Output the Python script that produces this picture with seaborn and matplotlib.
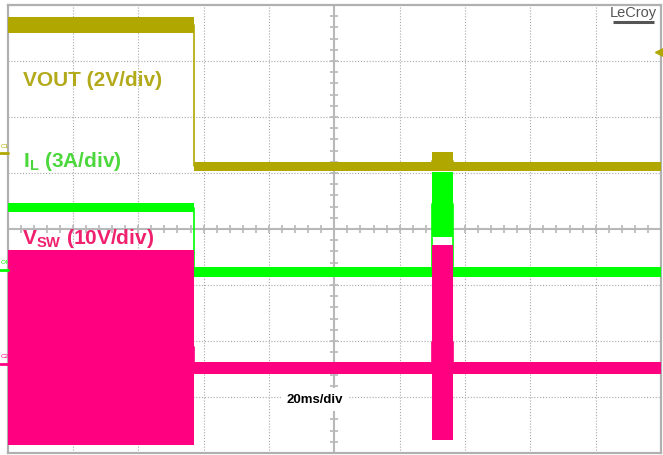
import numpy as np
import pandas as pd
import matplotlib

matplotlib.use('Agg')
import matplotlib.pyplot as plt
from matplotlib.lines import Line2D
import seaborn as sns

# ==========================================
# 0. style / fonts
# ==========================================
sns.set_theme(style="white")
plt.rcParams['font.family'] = ['Liberation Sans', 'DejaVu Sans']
plt.rcParams['mathtext.fontset'] = 'custom'
plt.rcParams['mathtext.rm'] = 'Liberation Sans:bold'
plt.rcParams['mathtext.bf'] = 'Liberation Sans:bold'

# ==========================================
# 1. traces (time in ms, 20ms/div; amplitude in screen divisions)
# ==========================================
t_ms = [0, 57, 57, 130, 130, 136.3, 136.3, 200]

vout_hi = [7.79, 7.79, 5.20, 5.20, 5.38, 5.38, 5.20, 5.20]
vout_lo = [7.50, 7.50, 5.04, 5.04, 5.04, 5.04, 5.04, 5.04]

il_hi = [4.46, 4.46, 3.32, 3.32, 5.02, 5.02, 3.32, 3.32]
il_lo = [4.30, 4.30, 3.14, 3.14, 3.86, 3.86, 3.14, 3.14]

vsw_hi = [3.63, 3.63, 1.63, 1.63, 3.71, 3.71, 1.63, 1.63]
vsw_lo = [0.14, 0.14, 1.41, 1.41, 0.24, 0.24, 1.41, 1.41]

channels = ['VOUT', 'IL', 'VSW']
colors = {'VOUT': '#b0a800', 'IL': '#00ff00', 'VSW': '#ff0080'}
label_colors = {'VOUT': '#b3aa1b', 'IL': '#4cd83c', 'VSW': '#f0206e'}
labels = {'VOUT': 'VOUT (2V/div)',
          'IL': r'I$_\mathrm{L}$ (3A/div)',
          'VSW': r'V$_\mathrm{SW}$ (10V/div)'}
label_pos = {'VOUT': (4.8, 6.66), 'IL': (4.8, 5.20), 'VSW': (4.3, 3.83)}
ground_px = {'VOUT': 153, 'IL': 270, 'VSW': 364}
marker_text = {'VOUT': 'C1', 'IL': 'C4', 'VSW': 'C2'}

bands = {
    'VOUT': (vout_hi, vout_lo),
    'IL': (il_hi, il_lo),
    'VSW': (vsw_hi, vsw_lo),
}

W, H = 663, 455
fig = plt.figure(figsize=(W / 100, H / 100), dpi=100)
ax = fig.add_axes([7.6 / W, 2 / H, 653.4 / W, 448 / H])
ax.set_xlim(0, 200)
ax.set_ylim(0, 8)

# grid
grid_c = '#a8a8a8'
for gx in np.arange(20, 200, 20):
    if gx == 100:
        continue
    ax.axvline(gx, color=grid_c, lw=0.8, ls=(0, (1, 1.6)), zorder=1)
for gy in np.arange(1, 8, 1):
    if gy == 4:
        continue
    ax.axhline(gy, color=grid_c, lw=0.8, ls=(0, (1, 1.6)), zorder=1)

# center cross with minor ticks
cross_c = '#b8b8b8'
ax.axvline(100, color=cross_c, lw=1.5, zorder=1)
ax.axhline(4, color=cross_c, lw=1.5, zorder=1)
ax.vlines(np.arange(4, 200, 4), 4 - 0.07, 4 + 0.07, color=cross_c, lw=1.2, zorder=1)
ax.hlines(np.arange(0.2, 8, 0.2), 100 - 1.2, 100 + 1.2, color=cross_c, lw=1.2, zorder=1)

# traces
for ch in channels:
    hi, lo = bands[ch]
    df = pd.DataFrame({'t': t_ms, 'hi': hi, 'lo': lo})
    df['mid'] = (df['hi'] + df['lo']) / 2
    ax.fill_between(df['t'], df['lo'], df['hi'], color=colors[ch], lw=0, zorder=3)
    sns.lineplot(data=df, x='t', y='mid', sort=False, estimator=None,
                 color=colors[ch], lw=1.2, ax=ax, zorder=3)

# channel labels
for ch in channels:
    x, y = label_pos[ch]
    ax.text(x, y, labels[ch], color=label_colors[ch], fontsize=15,
            fontweight='bold', va='center', ha='left', zorder=5)

ax.text(94, 0.95, '20ms/div', color='black', fontsize=9.5, fontweight='bold',
        ha='center', va='center', zorder=5,
        bbox=dict(facecolor='white', edgecolor='none', pad=4))

# LeCroy logo
ax.text(191.6, 7.85, 'LeCroy', color='#555555', fontsize=10.5, ha='center',
        va='center', zorder=5,
        family=['Liberation Sans Narrow', 'Liberation Sans'])
ax.hlines(7.70, 185.2, 198.0, color='#555555', lw=2.2, zorder=5)

# channel ground markers at the left edge and trigger arrow at right
for ch in channels:
    py = ground_px[ch]
    fig.text(0.3 / W, 1 - (py - 7) / H, marker_text[ch], color=colors[ch],
             fontsize=4.5, ha='left', va='center')
    fig.add_artist(Line2D([0, 7.5 / W], [1 - py / H, 1 - py / H],
                          color=colors[ch], lw=2))
fig.add_artist(Line2D([659 / W], [1 - 52 / H], marker='<', markersize=6,
                      color=colors['VOUT'], lw=0))

ax.set_xlabel('')
ax.set_ylabel('')
ax.set_xticks([])
ax.set_yticks([])
for s in ax.spines.values():
    s.set_color('#b0b0b0')
    s.set_linewidth(1.6)

plt.savefig('out.png', dpi=100)
plt.close()
